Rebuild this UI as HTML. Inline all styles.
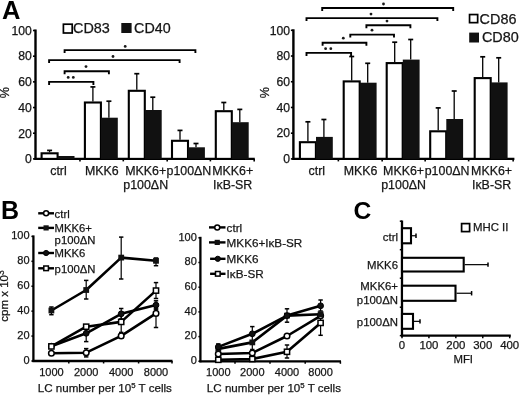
<!DOCTYPE html>
<html><head><meta charset="utf-8"><style>
html,body{margin:0;padding:0;background:#fff;overflow:hidden;}
svg{display:block;will-change:transform;}
</style></head><body>
<svg width="520" height="398" viewBox="0 0 520 398" font-family='"Liberation Sans", sans-serif'>
<rect width="520" height="398" fill="#fff"/>
<text transform="translate(2.00,18.80)" font-size="25.5" text-anchor="start" font-weight="bold" fill="#000">A</text>
<text transform="translate(1.00,219.00)" font-size="25.0" text-anchor="start" font-weight="bold" fill="#000">B</text>
<text transform="translate(353.60,219.30)" font-size="24.6" text-anchor="start" font-weight="bold" fill="#000">C</text>
<line x1="35.50" y1="29.50" x2="35.50" y2="159.90" stroke="#000" stroke-width="2.4"/>
<line x1="33.00" y1="158.90" x2="35.50" y2="158.90" stroke="#000" stroke-width="1.6"/>
<text transform="translate(31.90,163.20)" font-size="12.2" text-anchor="end" font-weight="normal" fill="#161616" stroke="#161616" stroke-width="0.25">0</text>
<line x1="33.00" y1="133.22" x2="35.50" y2="133.22" stroke="#000" stroke-width="1.6"/>
<text transform="translate(31.90,137.52)" font-size="12.2" text-anchor="end" font-weight="normal" fill="#161616" stroke="#161616" stroke-width="0.25">20</text>
<line x1="33.00" y1="107.54" x2="35.50" y2="107.54" stroke="#000" stroke-width="1.6"/>
<text transform="translate(31.90,111.84)" font-size="12.2" text-anchor="end" font-weight="normal" fill="#161616" stroke="#161616" stroke-width="0.25">40</text>
<line x1="33.00" y1="81.86" x2="35.50" y2="81.86" stroke="#000" stroke-width="1.6"/>
<text transform="translate(31.90,86.16)" font-size="12.2" text-anchor="end" font-weight="normal" fill="#161616" stroke="#161616" stroke-width="0.25">60</text>
<line x1="33.00" y1="56.18" x2="35.50" y2="56.18" stroke="#000" stroke-width="1.6"/>
<text transform="translate(31.90,60.48)" font-size="12.2" text-anchor="end" font-weight="normal" fill="#161616" stroke="#161616" stroke-width="0.25">80</text>
<line x1="33.00" y1="30.50" x2="35.50" y2="30.50" stroke="#000" stroke-width="1.6"/>
<text transform="translate(31.90,34.80)" font-size="12.2" text-anchor="end" font-weight="normal" fill="#161616" stroke="#161616" stroke-width="0.25">100</text>
<line x1="34.50" y1="158.90" x2="254.80" y2="158.90" stroke="#000" stroke-width="2.2"/>
<line x1="79.97" y1="158.90" x2="79.97" y2="161.40" stroke="#000" stroke-width="1.6"/>
<line x1="123.28" y1="158.90" x2="123.28" y2="161.40" stroke="#000" stroke-width="1.6"/>
<line x1="167.18" y1="158.90" x2="167.18" y2="161.40" stroke="#000" stroke-width="1.6"/>
<line x1="210.38" y1="158.90" x2="210.38" y2="161.40" stroke="#000" stroke-width="1.6"/>
<line x1="254.18" y1="158.90" x2="254.18" y2="161.40" stroke="#000" stroke-width="1.6"/>
<line x1="49.60" y1="152.30" x2="49.60" y2="150.40" stroke="#000" stroke-width="1.3"/>
<line x1="47.10" y1="150.40" x2="52.10" y2="150.40" stroke="#000" stroke-width="1.7"/>
<rect x="41.60" y="153.30" width="16.00" height="5.60" fill="#fff" stroke="#000" stroke-width="2.1"/>
<rect x="57.70" y="156.00" width="16.80" height="2.90" fill="#111"/>
<line x1="92.90" y1="101.50" x2="92.90" y2="86.90" stroke="#000" stroke-width="1.3"/>
<line x1="90.40" y1="86.90" x2="95.40" y2="86.90" stroke="#000" stroke-width="1.7"/>
<line x1="108.90" y1="117.70" x2="108.90" y2="101.20" stroke="#000" stroke-width="1.3"/>
<line x1="106.40" y1="101.20" x2="111.40" y2="101.20" stroke="#000" stroke-width="1.7"/>
<rect x="84.90" y="102.50" width="16.00" height="56.40" fill="#fff" stroke="#000" stroke-width="2.1"/>
<rect x="101.00" y="117.70" width="16.80" height="41.20" fill="#111"/>
<line x1="136.80" y1="89.80" x2="136.80" y2="73.70" stroke="#000" stroke-width="1.3"/>
<line x1="134.30" y1="73.70" x2="139.30" y2="73.70" stroke="#000" stroke-width="1.7"/>
<line x1="152.80" y1="110.00" x2="152.80" y2="97.20" stroke="#000" stroke-width="1.3"/>
<line x1="150.30" y1="97.20" x2="155.30" y2="97.20" stroke="#000" stroke-width="1.7"/>
<rect x="128.80" y="90.80" width="16.00" height="68.10" fill="#fff" stroke="#000" stroke-width="2.1"/>
<rect x="144.90" y="110.00" width="16.80" height="48.90" fill="#111"/>
<line x1="180.00" y1="139.80" x2="180.00" y2="130.40" stroke="#000" stroke-width="1.3"/>
<line x1="177.50" y1="130.40" x2="182.50" y2="130.40" stroke="#000" stroke-width="1.7"/>
<line x1="196.00" y1="147.30" x2="196.00" y2="143.50" stroke="#000" stroke-width="1.3"/>
<line x1="193.50" y1="143.50" x2="198.50" y2="143.50" stroke="#000" stroke-width="1.7"/>
<rect x="172.00" y="140.80" width="16.00" height="18.10" fill="#fff" stroke="#000" stroke-width="2.1"/>
<rect x="188.10" y="147.30" width="16.80" height="11.60" fill="#111"/>
<line x1="223.80" y1="110.20" x2="223.80" y2="102.50" stroke="#000" stroke-width="1.3"/>
<line x1="221.30" y1="102.50" x2="226.30" y2="102.50" stroke="#000" stroke-width="1.7"/>
<line x1="239.80" y1="122.20" x2="239.80" y2="109.40" stroke="#000" stroke-width="1.3"/>
<line x1="237.30" y1="109.40" x2="242.30" y2="109.40" stroke="#000" stroke-width="1.7"/>
<rect x="215.80" y="111.20" width="16.00" height="47.70" fill="#fff" stroke="#000" stroke-width="2.1"/>
<rect x="231.90" y="122.20" width="16.80" height="36.70" fill="#111"/>
<text transform="translate(58.50,175.00)" font-size="12.4" text-anchor="middle" font-weight="normal" fill="#161616" stroke="#161616" stroke-width="0.25">ctrl</text>
<text transform="translate(101.80,175.00)" font-size="12.4" text-anchor="middle" font-weight="normal" fill="#161616" stroke="#161616" stroke-width="0.25">MKK6</text>
<text transform="translate(145.70,175.00)" font-size="12.4" text-anchor="middle" font-weight="normal" fill="#161616" stroke="#161616" stroke-width="0.25">MKK6+</text>
<text transform="translate(145.70,188.80)" font-size="12.4" text-anchor="middle" font-weight="normal" fill="#161616" stroke="#161616" stroke-width="0.25">p100ΔN</text>
<text transform="translate(188.90,175.00)" font-size="12.4" text-anchor="middle" font-weight="normal" fill="#161616" stroke="#161616" stroke-width="0.25">p100ΔN</text>
<text transform="translate(232.70,175.00)" font-size="12.4" text-anchor="middle" font-weight="normal" fill="#161616" stroke="#161616" stroke-width="0.25">MKK6+</text>
<text transform="translate(232.70,188.80)" font-size="12.4" text-anchor="middle" font-weight="normal" fill="#161616" stroke="#161616" stroke-width="0.25">IκB-SR</text>
<path d="M64.60,53.10 L64.60,50.10 L195.40,50.10 L195.40,53.10" fill="none" stroke="#000" stroke-width="1.9"/>
<circle cx="125.20" cy="46.40" r="1.4" fill="#1a1a1a"/>
<path d="M49.10,63.10 L49.10,60.10 L179.60,60.10 L179.60,63.10" fill="none" stroke="#000" stroke-width="1.9"/>
<circle cx="113.00" cy="56.50" r="1.4" fill="#1a1a1a"/>
<path d="M64.60,74.20 L64.60,71.20 L108.90,71.20 L108.90,74.20" fill="none" stroke="#000" stroke-width="1.9"/>
<circle cx="86.00" cy="66.60" r="1.4" fill="#1a1a1a"/>
<path d="M49.10,84.90 L49.10,81.90 L93.40,81.90 L93.40,84.90" fill="none" stroke="#000" stroke-width="1.9"/>
<circle cx="68.20" cy="77.40" r="1.4" fill="#1a1a1a"/>
<circle cx="73.30" cy="77.40" r="1.4" fill="#1a1a1a"/>
<text transform="translate(9.30,92.70) rotate(-90)" font-size="12.6" text-anchor="middle" font-weight="normal" fill="#161616" stroke="#161616" stroke-width="0.25">%</text>
<rect x="63.40" y="24.20" width="8.80" height="8.80" fill="#fff" stroke="#000" stroke-width="1.7"/>
<text transform="translate(73.00,33.20)" font-size="14.4" text-anchor="start" font-weight="normal" fill="#161616" stroke="#161616" stroke-width="0.25">CD83</text>
<rect x="121.30" y="23.00" width="10.30" height="10.00" fill="#111"/>
<text transform="translate(134.10,33.20)" font-size="14.3" text-anchor="start" font-weight="normal" fill="#161616" stroke="#161616" stroke-width="0.25">CD40</text>
<line x1="293.40" y1="29.30" x2="293.40" y2="159.90" stroke="#000" stroke-width="2.4"/>
<line x1="290.90" y1="158.90" x2="293.40" y2="158.90" stroke="#000" stroke-width="1.6"/>
<text transform="translate(290.00,163.20)" font-size="12.2" text-anchor="end" font-weight="normal" fill="#161616" stroke="#161616" stroke-width="0.25">0</text>
<line x1="290.90" y1="133.18" x2="293.40" y2="133.18" stroke="#000" stroke-width="1.6"/>
<text transform="translate(290.00,137.48)" font-size="12.2" text-anchor="end" font-weight="normal" fill="#161616" stroke="#161616" stroke-width="0.25">20</text>
<line x1="290.90" y1="107.46" x2="293.40" y2="107.46" stroke="#000" stroke-width="1.6"/>
<text transform="translate(290.00,111.76)" font-size="12.2" text-anchor="end" font-weight="normal" fill="#161616" stroke="#161616" stroke-width="0.25">40</text>
<line x1="290.90" y1="81.74" x2="293.40" y2="81.74" stroke="#000" stroke-width="1.6"/>
<text transform="translate(290.00,86.04)" font-size="12.2" text-anchor="end" font-weight="normal" fill="#161616" stroke="#161616" stroke-width="0.25">60</text>
<line x1="290.90" y1="56.02" x2="293.40" y2="56.02" stroke="#000" stroke-width="1.6"/>
<text transform="translate(290.00,60.32)" font-size="12.2" text-anchor="end" font-weight="normal" fill="#161616" stroke="#161616" stroke-width="0.25">80</text>
<line x1="290.90" y1="30.30" x2="293.40" y2="30.30" stroke="#000" stroke-width="1.6"/>
<text transform="translate(290.00,34.60)" font-size="12.2" text-anchor="end" font-weight="normal" fill="#161616" stroke="#161616" stroke-width="0.25">100</text>
<line x1="292.40" y1="158.90" x2="514.40" y2="158.90" stroke="#000" stroke-width="2.2"/>
<line x1="338.35" y1="158.90" x2="338.35" y2="161.40" stroke="#000" stroke-width="1.6"/>
<line x1="382.15" y1="158.90" x2="382.15" y2="161.40" stroke="#000" stroke-width="1.6"/>
<line x1="425.15" y1="158.90" x2="425.15" y2="161.40" stroke="#000" stroke-width="1.6"/>
<line x1="468.65" y1="158.90" x2="468.65" y2="161.40" stroke="#000" stroke-width="1.6"/>
<line x1="513.15" y1="158.90" x2="513.15" y2="161.40" stroke="#000" stroke-width="1.6"/>
<line x1="307.90" y1="141.20" x2="307.90" y2="121.80" stroke="#000" stroke-width="1.3"/>
<line x1="305.40" y1="121.80" x2="310.40" y2="121.80" stroke="#000" stroke-width="1.7"/>
<line x1="323.90" y1="136.90" x2="323.90" y2="119.50" stroke="#000" stroke-width="1.3"/>
<line x1="321.40" y1="119.50" x2="326.40" y2="119.50" stroke="#000" stroke-width="1.7"/>
<rect x="299.90" y="142.20" width="16.00" height="16.70" fill="#fff" stroke="#000" stroke-width="2.1"/>
<rect x="316.00" y="136.90" width="16.80" height="22.00" fill="#111"/>
<line x1="351.70" y1="80.40" x2="351.70" y2="56.50" stroke="#000" stroke-width="1.3"/>
<line x1="349.20" y1="56.50" x2="354.20" y2="56.50" stroke="#000" stroke-width="1.7"/>
<line x1="367.70" y1="82.70" x2="367.70" y2="63.30" stroke="#000" stroke-width="1.3"/>
<line x1="365.20" y1="63.30" x2="370.20" y2="63.30" stroke="#000" stroke-width="1.7"/>
<rect x="343.70" y="81.40" width="16.00" height="77.50" fill="#fff" stroke="#000" stroke-width="2.1"/>
<rect x="359.80" y="82.70" width="16.80" height="76.20" fill="#111"/>
<line x1="394.70" y1="62.10" x2="394.70" y2="42.20" stroke="#000" stroke-width="1.3"/>
<line x1="392.20" y1="42.20" x2="397.20" y2="42.20" stroke="#000" stroke-width="1.7"/>
<line x1="410.70" y1="59.60" x2="410.70" y2="39.50" stroke="#000" stroke-width="1.3"/>
<line x1="408.20" y1="39.50" x2="413.20" y2="39.50" stroke="#000" stroke-width="1.7"/>
<rect x="386.70" y="63.10" width="16.00" height="95.80" fill="#fff" stroke="#000" stroke-width="2.1"/>
<rect x="402.80" y="59.60" width="16.80" height="99.30" fill="#111"/>
<line x1="438.20" y1="130.30" x2="438.20" y2="107.90" stroke="#000" stroke-width="1.3"/>
<line x1="435.70" y1="107.90" x2="440.70" y2="107.90" stroke="#000" stroke-width="1.7"/>
<line x1="454.20" y1="119.00" x2="454.20" y2="91.00" stroke="#000" stroke-width="1.3"/>
<line x1="451.70" y1="91.00" x2="456.70" y2="91.00" stroke="#000" stroke-width="1.7"/>
<rect x="430.20" y="131.30" width="16.00" height="27.60" fill="#fff" stroke="#000" stroke-width="2.1"/>
<rect x="446.30" y="119.00" width="16.80" height="39.90" fill="#111"/>
<line x1="482.70" y1="77.10" x2="482.70" y2="56.80" stroke="#000" stroke-width="1.3"/>
<line x1="480.20" y1="56.80" x2="485.20" y2="56.80" stroke="#000" stroke-width="1.7"/>
<line x1="498.70" y1="82.40" x2="498.70" y2="57.80" stroke="#000" stroke-width="1.3"/>
<line x1="496.20" y1="57.80" x2="501.20" y2="57.80" stroke="#000" stroke-width="1.7"/>
<rect x="474.70" y="78.10" width="16.00" height="80.80" fill="#fff" stroke="#000" stroke-width="2.1"/>
<rect x="490.80" y="82.40" width="16.80" height="76.50" fill="#111"/>
<text transform="translate(316.80,175.00)" font-size="12.4" text-anchor="middle" font-weight="normal" fill="#161616" stroke="#161616" stroke-width="0.25">ctrl</text>
<text transform="translate(360.60,175.00)" font-size="12.4" text-anchor="middle" font-weight="normal" fill="#161616" stroke="#161616" stroke-width="0.25">MKK6</text>
<text transform="translate(403.60,175.00)" font-size="12.4" text-anchor="middle" font-weight="normal" fill="#161616" stroke="#161616" stroke-width="0.25">MKK6+</text>
<text transform="translate(403.60,188.80)" font-size="12.4" text-anchor="middle" font-weight="normal" fill="#161616" stroke="#161616" stroke-width="0.25">p100ΔN</text>
<text transform="translate(447.10,175.00)" font-size="12.4" text-anchor="middle" font-weight="normal" fill="#161616" stroke="#161616" stroke-width="0.25">p100ΔN</text>
<text transform="translate(491.60,175.00)" font-size="12.4" text-anchor="middle" font-weight="normal" fill="#161616" stroke="#161616" stroke-width="0.25">MKK6+</text>
<text transform="translate(491.60,188.80)" font-size="12.4" text-anchor="middle" font-weight="normal" fill="#161616" stroke="#161616" stroke-width="0.25">IκB-SR</text>
<path d="M322.20,11.00 L322.20,8.00 L453.20,8.00 L453.20,11.00" fill="none" stroke="#000" stroke-width="1.9"/>
<circle cx="383.50" cy="4.00" r="1.4" fill="#1a1a1a"/>
<path d="M306.50,21.10 L306.50,18.10 L437.40,18.10 L437.40,21.10" fill="none" stroke="#000" stroke-width="1.9"/>
<circle cx="371.00" cy="14.10" r="1.4" fill="#1a1a1a"/>
<path d="M366.40,28.20 L366.40,25.20 L410.40,25.20 L410.40,28.20" fill="none" stroke="#000" stroke-width="1.9"/>
<circle cx="387.00" cy="21.10" r="1.4" fill="#1a1a1a"/>
<path d="M350.30,37.60 L350.30,34.60 L394.00,34.60 L394.00,37.60" fill="none" stroke="#000" stroke-width="1.9"/>
<circle cx="372.00" cy="30.20" r="1.4" fill="#1a1a1a"/>
<path d="M322.60,45.70 L322.60,42.70 L366.40,42.70 L366.40,45.70" fill="none" stroke="#000" stroke-width="1.9"/>
<circle cx="343.30" cy="38.20" r="1.4" fill="#1a1a1a"/>
<path d="M306.50,55.90 L306.50,52.90 L351.10,52.90 L351.10,55.90" fill="none" stroke="#000" stroke-width="1.9"/>
<circle cx="325.60" cy="48.70" r="1.4" fill="#1a1a1a"/>
<circle cx="330.80" cy="48.70" r="1.4" fill="#1a1a1a"/>
<text transform="translate(268.50,92.70) rotate(-90)" font-size="12.6" text-anchor="middle" font-weight="normal" fill="#161616" stroke="#161616" stroke-width="0.25">%</text>
<rect x="469.55" y="14.55" width="8.10" height="8.10" fill="#fff" stroke="#000" stroke-width="1.7"/>
<text transform="translate(479.60,23.60)" font-size="14.4" text-anchor="start" font-weight="normal" fill="#161616" stroke="#161616" stroke-width="0.25">CD86</text>
<rect x="469.20" y="32.60" width="9.80" height="9.90" fill="#111"/>
<text transform="translate(481.90,42.20)" font-size="14.4" text-anchor="start" font-weight="normal" fill="#161616" stroke="#161616" stroke-width="0.25">CD80</text>
<line x1="33.40" y1="235.40" x2="33.40" y2="362.00" stroke="#000" stroke-width="2.3"/>
<line x1="31.40" y1="361.00" x2="33.40" y2="361.00" stroke="#000" stroke-width="1.5"/>
<text transform="translate(29.60,363.80)" font-size="11" text-anchor="end" font-weight="normal" fill="#161616" stroke="#161616" stroke-width="0.25">0</text>
<line x1="31.40" y1="336.08" x2="33.40" y2="336.08" stroke="#000" stroke-width="1.5"/>
<text transform="translate(29.60,338.88)" font-size="11" text-anchor="end" font-weight="normal" fill="#161616" stroke="#161616" stroke-width="0.25">20</text>
<line x1="31.40" y1="311.16" x2="33.40" y2="311.16" stroke="#000" stroke-width="1.5"/>
<text transform="translate(29.60,313.96)" font-size="11" text-anchor="end" font-weight="normal" fill="#161616" stroke="#161616" stroke-width="0.25">40</text>
<line x1="31.40" y1="286.24" x2="33.40" y2="286.24" stroke="#000" stroke-width="1.5"/>
<text transform="translate(29.60,289.04)" font-size="11" text-anchor="end" font-weight="normal" fill="#161616" stroke="#161616" stroke-width="0.25">60</text>
<line x1="31.40" y1="261.32" x2="33.40" y2="261.32" stroke="#000" stroke-width="1.5"/>
<text transform="translate(29.60,264.12)" font-size="11" text-anchor="end" font-weight="normal" fill="#161616" stroke="#161616" stroke-width="0.25">80</text>
<line x1="31.40" y1="236.40" x2="33.40" y2="236.40" stroke="#000" stroke-width="1.5"/>
<text transform="translate(29.60,239.20)" font-size="11" text-anchor="end" font-weight="normal" fill="#161616" stroke="#161616" stroke-width="0.25">100</text>
<line x1="32.40" y1="361.00" x2="172.50" y2="361.00" stroke="#000" stroke-width="2.3"/>
<line x1="68.80" y1="361.00" x2="68.80" y2="363.50" stroke="#000" stroke-width="1.5"/>
<line x1="103.60" y1="361.00" x2="103.60" y2="363.50" stroke="#000" stroke-width="1.5"/>
<line x1="138.60" y1="361.00" x2="138.60" y2="363.50" stroke="#000" stroke-width="1.5"/>
<line x1="172.00" y1="361.00" x2="172.00" y2="363.50" stroke="#000" stroke-width="1.5"/>
<text transform="translate(51.40,375.60)" font-size="11" text-anchor="middle" font-weight="normal" fill="#161616" stroke="#161616" stroke-width="0.25">1000</text>
<text transform="translate(86.20,375.60)" font-size="11" text-anchor="middle" font-weight="normal" fill="#161616" stroke="#161616" stroke-width="0.25">2000</text>
<text transform="translate(121.20,375.60)" font-size="11" text-anchor="middle" font-weight="normal" fill="#161616" stroke="#161616" stroke-width="0.25">4000</text>
<text transform="translate(156.00,375.60)" font-size="11" text-anchor="middle" font-weight="normal" fill="#161616" stroke="#161616" stroke-width="0.25">8000</text>
<line x1="86.20" y1="348.60" x2="86.20" y2="356.90" stroke="#000" stroke-width="1.2"/>
<line x1="84.00" y1="348.60" x2="88.40" y2="348.60" stroke="#000" stroke-width="1.5"/>
<line x1="84.00" y1="356.90" x2="88.40" y2="356.90" stroke="#000" stroke-width="1.5"/>
<line x1="156.00" y1="309.00" x2="156.00" y2="327.50" stroke="#000" stroke-width="1.2"/>
<line x1="153.80" y1="309.00" x2="158.20" y2="309.00" stroke="#000" stroke-width="1.5"/>
<line x1="153.80" y1="327.50" x2="158.20" y2="327.50" stroke="#000" stroke-width="1.5"/>
<line x1="86.20" y1="329.50" x2="86.20" y2="341.60" stroke="#000" stroke-width="1.2"/>
<line x1="84.00" y1="329.50" x2="88.40" y2="329.50" stroke="#000" stroke-width="1.5"/>
<line x1="84.00" y1="341.60" x2="88.40" y2="341.60" stroke="#000" stroke-width="1.5"/>
<line x1="121.20" y1="308.50" x2="121.20" y2="319.00" stroke="#000" stroke-width="1.2"/>
<line x1="119.00" y1="308.50" x2="123.40" y2="308.50" stroke="#000" stroke-width="1.5"/>
<line x1="119.00" y1="319.00" x2="123.40" y2="319.00" stroke="#000" stroke-width="1.5"/>
<line x1="156.00" y1="300.80" x2="156.00" y2="309.00" stroke="#000" stroke-width="1.2"/>
<line x1="153.80" y1="300.80" x2="158.20" y2="300.80" stroke="#000" stroke-width="1.5"/>
<line x1="153.80" y1="309.00" x2="158.20" y2="309.00" stroke="#000" stroke-width="1.5"/>
<line x1="121.20" y1="312.00" x2="121.20" y2="332.40" stroke="#000" stroke-width="1.2"/>
<line x1="119.00" y1="312.00" x2="123.40" y2="312.00" stroke="#000" stroke-width="1.5"/>
<line x1="119.00" y1="332.40" x2="123.40" y2="332.40" stroke="#000" stroke-width="1.5"/>
<line x1="156.00" y1="282.60" x2="156.00" y2="298.50" stroke="#000" stroke-width="1.2"/>
<line x1="153.80" y1="282.60" x2="158.20" y2="282.60" stroke="#000" stroke-width="1.5"/>
<line x1="153.80" y1="298.50" x2="158.20" y2="298.50" stroke="#000" stroke-width="1.5"/>
<line x1="51.40" y1="307.00" x2="51.40" y2="314.70" stroke="#000" stroke-width="1.2"/>
<line x1="49.20" y1="307.00" x2="53.60" y2="307.00" stroke="#000" stroke-width="1.5"/>
<line x1="49.20" y1="314.70" x2="53.60" y2="314.70" stroke="#000" stroke-width="1.5"/>
<line x1="86.20" y1="280.40" x2="86.20" y2="299.00" stroke="#000" stroke-width="1.2"/>
<line x1="84.00" y1="280.40" x2="88.40" y2="280.40" stroke="#000" stroke-width="1.5"/>
<line x1="84.00" y1="299.00" x2="88.40" y2="299.00" stroke="#000" stroke-width="1.5"/>
<line x1="121.20" y1="237.10" x2="121.20" y2="279.00" stroke="#000" stroke-width="1.2"/>
<line x1="119.00" y1="237.10" x2="123.40" y2="237.10" stroke="#000" stroke-width="1.5"/>
<line x1="119.00" y1="279.00" x2="123.40" y2="279.00" stroke="#000" stroke-width="1.5"/>
<line x1="156.00" y1="258.00" x2="156.00" y2="265.70" stroke="#000" stroke-width="1.2"/>
<line x1="153.80" y1="258.00" x2="158.20" y2="258.00" stroke="#000" stroke-width="1.5"/>
<line x1="153.80" y1="265.70" x2="158.20" y2="265.70" stroke="#000" stroke-width="1.5"/>
<polyline points="51.40,353.20 86.20,352.70 121.20,335.90 156.00,313.40" fill="none" stroke="#000" stroke-width="2.6" stroke-linejoin="round"/>
<polyline points="51.40,346.20 86.20,333.30 121.20,313.80 156.00,305.10" fill="none" stroke="#000" stroke-width="2.6" stroke-linejoin="round"/>
<polyline points="51.40,346.40 86.20,326.70 121.20,321.90 156.00,290.60" fill="none" stroke="#000" stroke-width="2.6" stroke-linejoin="round"/>
<polyline points="51.40,310.50 86.20,290.00 121.20,257.60 156.00,260.80" fill="none" stroke="#000" stroke-width="2.6" stroke-linejoin="round"/>
<circle cx="51.40" cy="353.20" r="2.80" fill="#fff" stroke="#000" stroke-width="1.5"/>
<circle cx="86.20" cy="352.70" r="2.80" fill="#fff" stroke="#000" stroke-width="1.5"/>
<circle cx="121.20" cy="335.90" r="2.80" fill="#fff" stroke="#000" stroke-width="1.5"/>
<circle cx="156.00" cy="313.40" r="2.80" fill="#fff" stroke="#000" stroke-width="1.5"/>
<circle cx="51.40" cy="346.20" r="2.90" fill="#111" stroke="#000" stroke-width="1"/>
<circle cx="86.20" cy="333.30" r="2.90" fill="#111" stroke="#000" stroke-width="1"/>
<circle cx="121.20" cy="313.80" r="2.90" fill="#111" stroke="#000" stroke-width="1"/>
<circle cx="156.00" cy="305.10" r="2.90" fill="#111" stroke="#000" stroke-width="1"/>
<rect x="48.80" y="343.80" width="5.20" height="5.20" fill="#fff" stroke="#000" stroke-width="1.5"/>
<rect x="83.60" y="324.10" width="5.20" height="5.20" fill="#fff" stroke="#000" stroke-width="1.5"/>
<rect x="118.60" y="319.30" width="5.20" height="5.20" fill="#fff" stroke="#000" stroke-width="1.5"/>
<rect x="153.40" y="288.00" width="5.20" height="5.20" fill="#fff" stroke="#000" stroke-width="1.5"/>
<rect x="48.50" y="307.60" width="5.80" height="5.80" fill="#111"/>
<rect x="83.30" y="287.10" width="5.80" height="5.80" fill="#111"/>
<rect x="118.30" y="254.70" width="5.80" height="5.80" fill="#111"/>
<rect x="153.10" y="257.90" width="5.80" height="5.80" fill="#111"/>
<line x1="38.20" y1="213.30" x2="54.00" y2="213.30" stroke="#000" stroke-width="2.4"/>
<circle cx="46.10" cy="213.30" r="2.50" fill="#fff" stroke="#000" stroke-width="1.5"/>
<text transform="translate(54.60,217.60)" font-size="11.3" text-anchor="start" font-weight="normal" fill="#161616" stroke="#161616" stroke-width="0.25">ctrl</text>
<line x1="38.20" y1="227.90" x2="54.00" y2="227.90" stroke="#000" stroke-width="2.4"/>
<rect x="43.50" y="225.30" width="5.20" height="5.20" fill="#111"/>
<text transform="translate(54.60,232.20)" font-size="11.3" text-anchor="start" font-weight="normal" fill="#161616" stroke="#161616" stroke-width="0.25">MKK6+</text>
<text transform="translate(54.60,244.00)" font-size="11.3" text-anchor="start" font-weight="normal" fill="#161616" stroke="#161616" stroke-width="0.25">p100ΔN</text>
<line x1="38.20" y1="253.00" x2="54.00" y2="253.00" stroke="#000" stroke-width="2.4"/>
<circle cx="46.10" cy="253.00" r="2.60" fill="#111" stroke="#000" stroke-width="1"/>
<text transform="translate(54.60,257.30)" font-size="11.3" text-anchor="start" font-weight="normal" fill="#161616" stroke="#161616" stroke-width="0.25">MKK6</text>
<line x1="38.20" y1="268.30" x2="54.00" y2="268.30" stroke="#000" stroke-width="2.4"/>
<rect x="43.80" y="266.00" width="4.60" height="4.60" fill="#fff" stroke="#000" stroke-width="1.5"/>
<text transform="translate(54.60,272.60)" font-size="11.3" text-anchor="start" font-weight="normal" fill="#161616" stroke="#161616" stroke-width="0.25">p100ΔN</text>
<text transform="translate(104.80,392.20)" font-size="11.6" text-anchor="middle" font-weight="normal" fill="#161616" stroke="#161616" stroke-width="0.25">LC number per 10<tspan font-size="7.8" dy="-4.6">5</tspan><tspan dy="4.6"> T cells</tspan></text>
<text transform="translate(7.70,296.00) rotate(-90)" font-size="11.5" text-anchor="middle" font-weight="normal" fill="#161616" stroke="#161616" stroke-width="0.25">cpm x 10<tspan font-size="8.5" dy="-4.2">3</tspan></text>
<line x1="200.40" y1="236.80" x2="200.40" y2="362.30" stroke="#000" stroke-width="2.3"/>
<line x1="198.40" y1="361.30" x2="200.40" y2="361.30" stroke="#000" stroke-width="1.5"/>
<text transform="translate(196.80,364.10)" font-size="11" text-anchor="end" font-weight="normal" fill="#161616" stroke="#161616" stroke-width="0.25">0</text>
<line x1="198.40" y1="336.60" x2="200.40" y2="336.60" stroke="#000" stroke-width="1.5"/>
<text transform="translate(196.80,339.40)" font-size="11" text-anchor="end" font-weight="normal" fill="#161616" stroke="#161616" stroke-width="0.25">20</text>
<line x1="198.40" y1="311.90" x2="200.40" y2="311.90" stroke="#000" stroke-width="1.5"/>
<text transform="translate(196.80,314.70)" font-size="11" text-anchor="end" font-weight="normal" fill="#161616" stroke="#161616" stroke-width="0.25">40</text>
<line x1="198.40" y1="287.20" x2="200.40" y2="287.20" stroke="#000" stroke-width="1.5"/>
<text transform="translate(196.80,290.00)" font-size="11" text-anchor="end" font-weight="normal" fill="#161616" stroke="#161616" stroke-width="0.25">60</text>
<line x1="198.40" y1="262.50" x2="200.40" y2="262.50" stroke="#000" stroke-width="1.5"/>
<text transform="translate(196.80,265.30)" font-size="11" text-anchor="end" font-weight="normal" fill="#161616" stroke="#161616" stroke-width="0.25">80</text>
<line x1="198.40" y1="237.80" x2="200.40" y2="237.80" stroke="#000" stroke-width="1.5"/>
<text transform="translate(196.80,240.60)" font-size="11" text-anchor="end" font-weight="normal" fill="#161616" stroke="#161616" stroke-width="0.25">100</text>
<line x1="199.40" y1="361.30" x2="341.00" y2="361.30" stroke="#000" stroke-width="2.3"/>
<line x1="235.00" y1="361.30" x2="235.00" y2="363.80" stroke="#000" stroke-width="1.5"/>
<line x1="270.00" y1="361.30" x2="270.00" y2="363.80" stroke="#000" stroke-width="1.5"/>
<line x1="305.20" y1="361.30" x2="305.20" y2="363.80" stroke="#000" stroke-width="1.5"/>
<line x1="340.40" y1="361.30" x2="340.40" y2="363.80" stroke="#000" stroke-width="1.5"/>
<text transform="translate(218.30,375.60)" font-size="11" text-anchor="middle" font-weight="normal" fill="#161616" stroke="#161616" stroke-width="0.25">1000</text>
<text transform="translate(252.30,375.60)" font-size="11" text-anchor="middle" font-weight="normal" fill="#161616" stroke="#161616" stroke-width="0.25">2000</text>
<text transform="translate(287.00,375.60)" font-size="11" text-anchor="middle" font-weight="normal" fill="#161616" stroke="#161616" stroke-width="0.25">4000</text>
<text transform="translate(320.60,375.60)" font-size="11" text-anchor="middle" font-weight="normal" fill="#161616" stroke="#161616" stroke-width="0.25">8000</text>
<line x1="287.00" y1="345.00" x2="287.00" y2="358.00" stroke="#000" stroke-width="1.2"/>
<line x1="284.80" y1="345.00" x2="289.20" y2="345.00" stroke="#000" stroke-width="1.5"/>
<line x1="284.80" y1="358.00" x2="289.20" y2="358.00" stroke="#000" stroke-width="1.5"/>
<line x1="320.60" y1="316.00" x2="320.60" y2="335.30" stroke="#000" stroke-width="1.2"/>
<line x1="318.40" y1="316.00" x2="322.80" y2="316.00" stroke="#000" stroke-width="1.5"/>
<line x1="318.40" y1="335.30" x2="322.80" y2="335.30" stroke="#000" stroke-width="1.5"/>
<line x1="218.30" y1="343.90" x2="218.30" y2="350.70" stroke="#000" stroke-width="1.2"/>
<line x1="216.10" y1="343.90" x2="220.50" y2="343.90" stroke="#000" stroke-width="1.5"/>
<line x1="216.10" y1="350.70" x2="220.50" y2="350.70" stroke="#000" stroke-width="1.5"/>
<line x1="252.30" y1="326.60" x2="252.30" y2="349.50" stroke="#000" stroke-width="1.2"/>
<line x1="250.10" y1="326.60" x2="254.50" y2="326.60" stroke="#000" stroke-width="1.5"/>
<line x1="250.10" y1="349.50" x2="254.50" y2="349.50" stroke="#000" stroke-width="1.5"/>
<line x1="287.00" y1="308.80" x2="287.00" y2="322.20" stroke="#000" stroke-width="1.2"/>
<line x1="284.80" y1="308.80" x2="289.20" y2="308.80" stroke="#000" stroke-width="1.5"/>
<line x1="284.80" y1="322.20" x2="289.20" y2="322.20" stroke="#000" stroke-width="1.5"/>
<line x1="320.60" y1="300.00" x2="320.60" y2="311.00" stroke="#000" stroke-width="1.2"/>
<line x1="318.40" y1="300.00" x2="322.80" y2="300.00" stroke="#000" stroke-width="1.5"/>
<line x1="318.40" y1="311.00" x2="322.80" y2="311.00" stroke="#000" stroke-width="1.5"/>
<polyline points="218.30,359.80 252.30,359.00 287.00,351.80 320.60,322.90" fill="none" stroke="#000" stroke-width="2.6" stroke-linejoin="round"/>
<polyline points="218.30,354.00 252.30,353.00 287.00,336.00 320.60,315.80" fill="none" stroke="#000" stroke-width="2.6" stroke-linejoin="round"/>
<polyline points="218.30,348.90 252.30,342.40 287.00,315.60 320.60,314.20" fill="none" stroke="#000" stroke-width="2.6" stroke-linejoin="round"/>
<polyline points="218.30,346.90 252.30,333.80 287.00,315.60 320.60,305.80" fill="none" stroke="#000" stroke-width="2.6" stroke-linejoin="round"/>
<rect x="215.70" y="357.20" width="5.20" height="5.20" fill="#fff" stroke="#000" stroke-width="1.5"/>
<rect x="249.70" y="356.40" width="5.20" height="5.20" fill="#fff" stroke="#000" stroke-width="1.5"/>
<rect x="284.40" y="349.20" width="5.20" height="5.20" fill="#fff" stroke="#000" stroke-width="1.5"/>
<rect x="318.00" y="320.30" width="5.20" height="5.20" fill="#fff" stroke="#000" stroke-width="1.5"/>
<circle cx="218.30" cy="354.00" r="2.80" fill="#fff" stroke="#000" stroke-width="1.5"/>
<circle cx="252.30" cy="353.00" r="2.80" fill="#fff" stroke="#000" stroke-width="1.5"/>
<circle cx="287.00" cy="336.00" r="2.80" fill="#fff" stroke="#000" stroke-width="1.5"/>
<circle cx="320.60" cy="315.80" r="2.80" fill="#fff" stroke="#000" stroke-width="1.5"/>
<rect x="215.40" y="346.00" width="5.80" height="5.80" fill="#111"/>
<rect x="249.40" y="339.50" width="5.80" height="5.80" fill="#111"/>
<rect x="284.10" y="312.70" width="5.80" height="5.80" fill="#111"/>
<rect x="317.70" y="311.30" width="5.80" height="5.80" fill="#111"/>
<circle cx="218.30" cy="346.90" r="2.90" fill="#111" stroke="#000" stroke-width="1"/>
<circle cx="252.30" cy="333.80" r="2.90" fill="#111" stroke="#000" stroke-width="1"/>
<circle cx="287.00" cy="315.60" r="2.90" fill="#111" stroke="#000" stroke-width="1"/>
<circle cx="320.60" cy="305.80" r="2.90" fill="#111" stroke="#000" stroke-width="1"/>
<line x1="209.00" y1="227.40" x2="225.50" y2="227.40" stroke="#000" stroke-width="2.4"/>
<circle cx="217.25" cy="227.40" r="2.50" fill="#fff" stroke="#000" stroke-width="1.5"/>
<text transform="translate(226.60,231.70)" font-size="11.7" text-anchor="start" font-weight="normal" fill="#161616" stroke="#161616" stroke-width="0.25">ctrl</text>
<line x1="209.00" y1="242.40" x2="225.50" y2="242.40" stroke="#000" stroke-width="2.4"/>
<rect x="214.65" y="239.80" width="5.20" height="5.20" fill="#111"/>
<text transform="translate(226.60,246.70)" font-size="11.7" text-anchor="start" font-weight="normal" fill="#161616" stroke="#161616" stroke-width="0.25">MKK6+IκB-SR</text>
<line x1="210.10" y1="258.80" x2="225.50" y2="258.80" stroke="#000" stroke-width="2.4"/>
<circle cx="217.80" cy="258.80" r="2.60" fill="#111" stroke="#000" stroke-width="1"/>
<text transform="translate(226.60,263.10)" font-size="11.7" text-anchor="start" font-weight="normal" fill="#161616" stroke="#161616" stroke-width="0.25">MKK6</text>
<line x1="210.10" y1="273.80" x2="225.50" y2="273.80" stroke="#000" stroke-width="2.4"/>
<rect x="215.50" y="271.50" width="4.60" height="4.60" fill="#fff" stroke="#000" stroke-width="1.5"/>
<text transform="translate(226.60,278.10)" font-size="11.7" text-anchor="start" font-weight="normal" fill="#161616" stroke="#161616" stroke-width="0.25">IκB-SR</text>
<text transform="translate(273.90,392.20)" font-size="11.6" text-anchor="middle" font-weight="normal" fill="#161616" stroke="#161616" stroke-width="0.25">LC number per 10<tspan font-size="7.8" dy="-4.6">5</tspan><tspan dy="4.6"> T cells</tspan></text>
<line x1="402.00" y1="220.50" x2="402.00" y2="336.60" stroke="#000" stroke-width="2.3"/>
<line x1="399.80" y1="221.20" x2="402.00" y2="221.20" stroke="#000" stroke-width="1.5"/>
<line x1="399.80" y1="249.70" x2="402.00" y2="249.70" stroke="#000" stroke-width="1.5"/>
<line x1="399.80" y1="278.20" x2="402.00" y2="278.20" stroke="#000" stroke-width="1.5"/>
<line x1="399.80" y1="307.20" x2="402.00" y2="307.20" stroke="#000" stroke-width="1.5"/>
<line x1="399.80" y1="335.60" x2="402.00" y2="335.60" stroke="#000" stroke-width="1.5"/>
<line x1="401.00" y1="335.60" x2="510.80" y2="335.60" stroke="#000" stroke-width="2.3"/>
<line x1="402.00" y1="335.60" x2="402.00" y2="338.30" stroke="#000" stroke-width="1.5"/>
<text transform="translate(402.00,349.20)" font-size="11.4" text-anchor="middle" font-weight="normal" fill="#161616" stroke="#161616" stroke-width="0.25">0</text>
<line x1="428.93" y1="335.60" x2="428.93" y2="338.30" stroke="#000" stroke-width="1.5"/>
<text transform="translate(428.93,349.20)" font-size="11.4" text-anchor="middle" font-weight="normal" fill="#161616" stroke="#161616" stroke-width="0.25">100</text>
<line x1="455.85" y1="335.60" x2="455.85" y2="338.30" stroke="#000" stroke-width="1.5"/>
<text transform="translate(455.85,349.20)" font-size="11.4" text-anchor="middle" font-weight="normal" fill="#161616" stroke="#161616" stroke-width="0.25">200</text>
<line x1="482.77" y1="335.60" x2="482.77" y2="338.30" stroke="#000" stroke-width="1.5"/>
<text transform="translate(482.77,349.20)" font-size="11.4" text-anchor="middle" font-weight="normal" fill="#161616" stroke="#161616" stroke-width="0.25">300</text>
<line x1="509.70" y1="335.60" x2="509.70" y2="338.30" stroke="#000" stroke-width="1.5"/>
<text transform="translate(509.70,349.20)" font-size="11.4" text-anchor="middle" font-weight="normal" fill="#161616" stroke="#161616" stroke-width="0.25">400</text>
<text transform="translate(463.20,363.40)" font-size="11.4" text-anchor="middle" font-weight="normal" fill="#161616" stroke="#161616" stroke-width="0.25">MFI</text>
<line x1="412.00" y1="235.75" x2="416.00" y2="235.75" stroke="#000" stroke-width="1.2"/>
<line x1="416.00" y1="233.55" x2="416.00" y2="237.95" stroke="#000" stroke-width="1.5"/>
<rect x="402.00" y="228.20" width="9.00" height="15.10" fill="#fff" stroke="#000" stroke-width="2.1"/>
<line x1="464.70" y1="264.65" x2="488.00" y2="264.65" stroke="#000" stroke-width="1.2"/>
<line x1="488.00" y1="262.45" x2="488.00" y2="266.85" stroke="#000" stroke-width="1.5"/>
<rect x="402.00" y="257.80" width="61.70" height="13.70" fill="#fff" stroke="#000" stroke-width="2.1"/>
<line x1="456.50" y1="293.25" x2="471.60" y2="293.25" stroke="#000" stroke-width="1.2"/>
<line x1="471.60" y1="291.05" x2="471.60" y2="295.45" stroke="#000" stroke-width="1.5"/>
<rect x="402.00" y="285.70" width="53.50" height="15.10" fill="#fff" stroke="#000" stroke-width="2.1"/>
<line x1="414.00" y1="321.35" x2="420.00" y2="321.35" stroke="#000" stroke-width="1.2"/>
<line x1="420.00" y1="319.15" x2="420.00" y2="323.55" stroke="#000" stroke-width="1.5"/>
<rect x="402.00" y="313.90" width="11.00" height="14.90" fill="#fff" stroke="#000" stroke-width="2.1"/>
<text transform="translate(398.00,240.80)" font-size="11.4" text-anchor="end" font-weight="normal" fill="#161616" stroke="#161616" stroke-width="0.25">ctrl</text>
<text transform="translate(398.00,268.60)" font-size="11.4" text-anchor="end" font-weight="normal" fill="#161616" stroke="#161616" stroke-width="0.25">MKK6</text>
<text transform="translate(398.00,289.80)" font-size="11.4" text-anchor="end" font-weight="normal" fill="#161616" stroke="#161616" stroke-width="0.25">MKK6+</text>
<text transform="translate(398.00,303.80)" font-size="11.4" text-anchor="end" font-weight="normal" fill="#161616" stroke="#161616" stroke-width="0.25">p100ΔN</text>
<text transform="translate(398.00,326.00)" font-size="11.4" text-anchor="end" font-weight="normal" fill="#161616" stroke="#161616" stroke-width="0.25">p100ΔN</text>
<rect x="461.60" y="223.60" width="8.00" height="8.00" fill="#fff" stroke="#000" stroke-width="1.7"/>
<text transform="translate(473.00,231.40)" font-size="11.4" text-anchor="start" font-weight="normal" fill="#161616" stroke="#161616" stroke-width="0.25">MHC II</text>
</svg>
</body></html>
